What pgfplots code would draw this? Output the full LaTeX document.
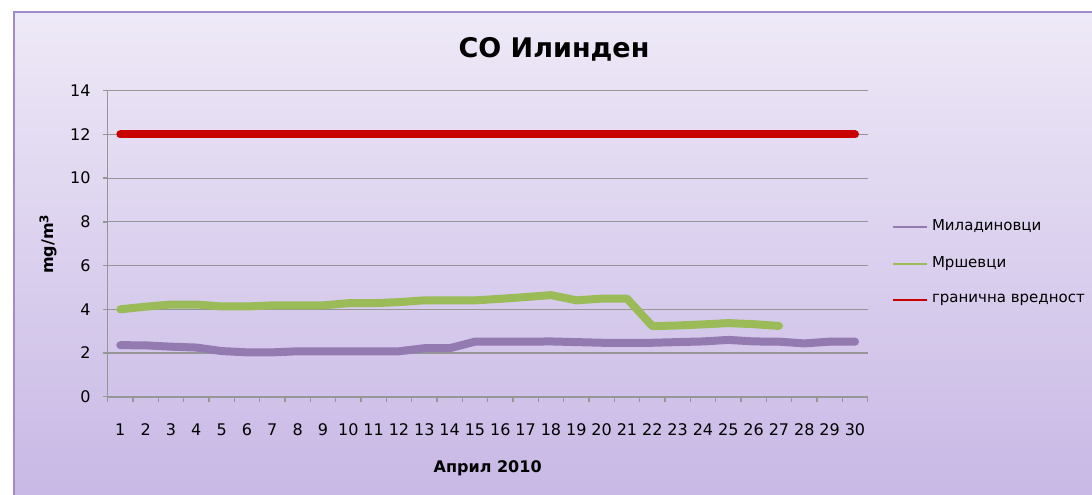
\documentclass[border=0pt]{standalone}
\usepackage{pgfplots}
\pgfplotsset{compat=1.18}
\usepackage{fontspec}
\setmainfont{DejaVu Sans}
\definecolor{bgtop}{RGB}{238,233,247}
\definecolor{bgbot}{RGB}{200,184,229}
\definecolor{brd}{RGB}{160,140,200}
\definecolor{cpurple}{RGB}{147,122,176}
\definecolor{cgreen}{RGB}{155,187,89}
\definecolor{cred}{RGB}{200,0,0}
\definecolor{gridc}{RGB}{150,150,150}
\begin{document}
\begin{tikzpicture}[x=1pt,y=1pt]
\path[use as bounding box] (0,0) rectangle (546,247);
\fill[white] (0,0) rectangle (546,247);
\shade[top color=bgtop, bottom color=bgbot] (7,0) rectangle (546,241);
\draw[brd, line width=0.7pt] (7,-5) -- (7,241) -- (560,241);
\begin{axis}[
  at={(42.5,44.5)}, anchor=south west,
  width=380pt, height=153pt, scale only axis,
  xmin=0.5, xmax=30.5, ymin=0, ymax=14,
  axis x line*=bottom, axis y line*=left,
  axis line style={gridc, line width=0.8pt},
  xtick={0.5,1.5,...,30.5},
  xticklabels={1,2,3,4,5,6,7,8,9,10,11,12,13,14,15,16,17,18,19,20,21,22,23,24,25,26,27,28,29,30,{}},
  xticklabel style={xshift=6.33pt, yshift=-7.5pt},
  yticklabel style={xshift=-2.5pt},
  ytick={0,2,...,14},
  tick align=outside, major tick length=2.5pt,
  tick style={gridc, line width=0.7pt},
  ymajorgrids, major grid style={gridc, line width=0.6pt},
  ticklabel style={font=\fontsize{8}{9}\selectfont},
  /pgf/number format/assume math mode=true,
  xlabel={\textbf{Април 2010}},
  xlabel style={at={(axis description cs:0.5,-0.235)}, anchor=center, font=\fontsize{8}{9}\selectfont},
  ylabel={\textbf{mg/m\textsuperscript{3}}},
  ylabel style={at={(axis description cs:-0.078,0.5)}, anchor=center, font=\fontsize{8}{9}\selectfont},
  legend style={at={(axis description cs:1.031,0.438)}, anchor=west, draw=none, fill=none, inner sep=0pt,
    font=\fontsize{7.5}{9}\selectfont, row sep=7.6pt},
  legend cell align=left,
  legend image code/.code={\draw[line width=1.2pt, line cap=butt] (0pt,0pt) -- (17pt,0pt);},
  every axis plot/.append style={line width=4pt, line cap=round, line join=round},
  clip=false,
]
\addplot[cpurple] coordinates {
(1,2.36) (2,2.35) (3,2.29) (4,2.25) (5,2.09) (6,2.03) (7,2.03) (8,2.08) (9,2.08) (10,2.08)
(11,2.08) (12,2.08) (13,2.22) (14,2.22) (15,2.52) (16,2.52) (17,2.52) (18,2.53) (19,2.5) (20,2.47)
(21,2.47) (22,2.47) (23,2.5) (24,2.53) (25,2.6) (26,2.53) (27,2.52) (28,2.44) (29,2.52) (30,2.52)};
\addlegendentry{Миладиновци}
\addplot[cgreen] coordinates {
(1,4.0) (2,4.12) (3,4.22) (4,4.22) (5,4.13) (6,4.13) (7,4.18) (8,4.18) (9,4.18) (10,4.28)
(11,4.28) (12,4.33) (13,4.41) (14,4.41) (15,4.41) (16,4.48) (17,4.56) (18,4.65) (19,4.41) (20,4.49)
(21,4.49) (22,3.23) (23,3.26) (24,3.31) (25,3.37) (26,3.32) (27,3.24)};
\addlegendentry{Мршевци}
\addplot[cred] coordinates {
(1,12) (2,12) (3,12) (4,12) (5,12) (6,12) (7,12) (8,12) (9,12) (10,12)
(11,12) (12,12) (13,12) (14,12) (15,12) (16,12) (17,12) (18,12) (19,12) (20,12)
(21,12) (22,12) (23,12) (24,12) (25,12) (26,12) (27,12) (28,12) (29,12) (30,12)};
\addlegendentry{гранична вредност}
\end{axis}
\node[font=\bfseries\fontsize{13.5}{16}\selectfont] at (277,222.5) {СО Илинден};
\end{tikzpicture}
\end{document}
